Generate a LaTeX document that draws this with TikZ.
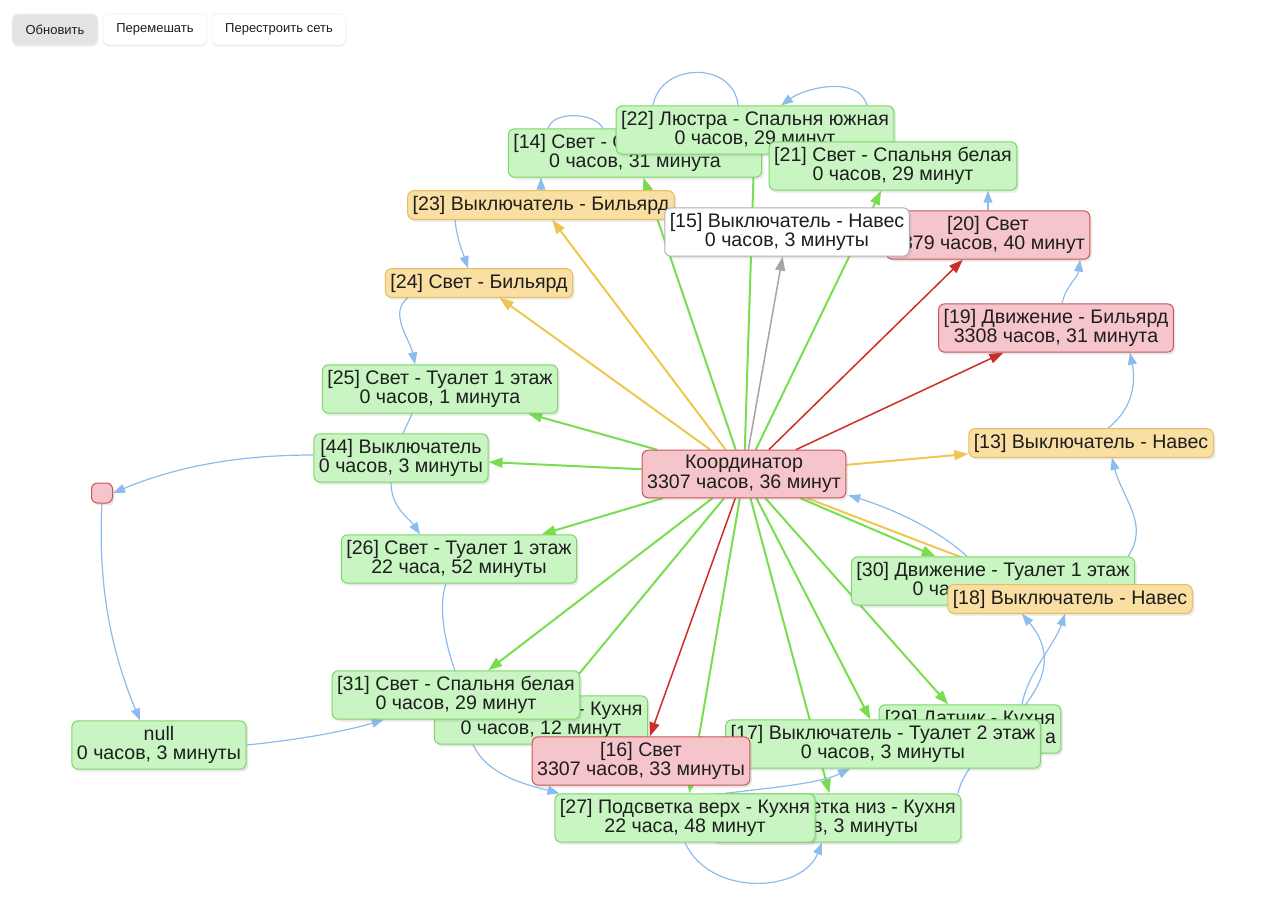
\documentclass[tikz,border=0pt]{standalone}
\usepackage{fontspec}
\setmainfont{Liberation Sans}
\usetikzlibrary{arrows.meta,calc,shadows,backgrounds}

\definecolor{greenfill}{RGB}{201,245,195}
\definecolor{greenline}{RGB}{125,212,105}
\definecolor{redfill}{RGB}{246,197,203}
\definecolor{redline}{RGB}{201,85,85}
\definecolor{amberfill}{RGB}{250,223,162}
\definecolor{amberline}{RGB}{228,190,95}
\definecolor{greyline}{RGB}{175,175,175}
\definecolor{btngrey}{RGB}{226,227,229}
\definecolor{txt}{RGB}{30,30,30}
\definecolor{edgegreen}{RGB}{120,222,80}
\definecolor{edgered}{RGB}{205,45,38}
\definecolor{edgeamber}{RGB}{238,198,80}
\definecolor{edgegrey}{RGB}{165,165,165}
\definecolor{edgeblue}{RGB}{140,188,238}

\begin{document}
\begin{tikzpicture}[x=0.5pt,y=-0.5pt,
	box/.style={draw, rounded corners=3pt, align=center, inner xsep=2.5pt, inner ysep=2.6pt, line width=0.5pt, text=txt,
		font=\fontsize{9.8}{9.8}\selectfont, drop shadow={shadow xshift=1pt, shadow yshift=-1.2pt, opacity=0.18}},
	greenbox/.style={box, fill=greenfill, draw=greenline},
	redbox/.style={box, fill=redfill, draw=redline},
	amberbox/.style={box, fill=amberfill, draw=amberline},
	whitebox/.style={box, fill=white, draw=greyline},
	btn/.style={rounded corners=3pt, minimum height=15.5pt, inner sep=0pt, text=txt, font=\fontsize{6.5}{6.5}\selectfont,
		draw=black!6, drop shadow={shadow xshift=0pt, shadow yshift=-0.8pt, opacity=0.15}},
	peerline/.style={draw=edgeblue, line width=0.6pt},
	peer/.style={peerline, -{Triangle[length=6pt,width=4.5pt]}}
]
	\useasboundingbox (0,0) rectangle (1280,901);

	% buttons (all coordinates are pixels of the screen, y downwards)
	\node[btn, fill=btngrey, minimum width=43pt] (bRefresh) at (55,29.5) {Обновить};
	\node[btn, fill=white, minimum width=52pt] (bShuffle) at (155,29.5) {Перемешать};
	\node[btn, fill=white, minimum width=67pt] (bRebuild) at (279,29.5) {Перестроить сеть};

	% devices, later ones lie on top
	\node[greenbox] (n14) at (635,153) {[14] Свет - С\phantom{пальня южная}\\0 часов, 31 минута};
	\node[greenbox] (n22) at (755,130) {[22] Люстра - Спальня южная\\0 часов, 29 минут};
	\node[greenbox] (n21) at (893,166) {[21] Свет - Спальня белая\\0 часов, 29 минут};
	\node[amberbox] (n23) at (541,205) {[23] Выключатель - Бильярд};
	\node[redbox] (n20) at (988,235) {[20] Свет\\\phantom{3}379 часов, 40 минут};
	\node[whitebox] (n15) at (787,232) {[15] Выключатель - Навес\\0 часов, 3 минуты};
	\node[amberbox] (n24) at (479,283) {[24] Свет - Бильярд};
	\node[redbox] (n19) at (1056,328) {[19] Движение - Бильярд\\3308 часов, 31 минута};
	\node[greenbox] (n25) at (440,389) {[25] Свет - Туалет 1 этаж\\0 часов, 1 минута};
	\node[greenbox] (n44) at (401,458) {[44] Выключатель\\0 часов, 3 минуты};
	\node[amberbox] (n13) at (1091,443) {[13] Выключатель - Навес};
	\node[redbox] (coord) at (744,474) {Координатор\\3307 часов, 36 минут};
	\node[redbox, minimum width=10.5pt, minimum height=10pt, inner sep=0pt] (nsm) at (102,493) {};
	\node[greenbox] (n26) at (459,559) {[26] Свет - Туалет 1 этаж\\22 часа, 52 минуты};
	\node[greenbox] (n30) at (993,581) {[30] Движение - Туалет 1 этаж\\0 ча\phantom{сов, 00 минут}};
	\node[amberbox] (n18) at (1070,599) {[18] Выключатель - Навес};
	\node[greenbox] (n28) at (541,720) {\phantom{[28] Подсветка }- Кухня\\0 часов, 12 минут};
	\node[greenbox] (n31) at (456,695) {[31] Свет - Спальня белая\\0 часов, 29 минут};
	\node[greenbox] (n29) at (970,729) {[29] Датчик - Кухня\\\phantom{0 часов, 00 минут}а};
	\node[greenbox] (n17) at (883,744) {[17] Выключатель - Туалет 2 этаж\\0 часов, 3 минуты};
	\node[redbox] (n16) at (641,761) {[16] Свет\\3307 часов, 33 минуты};
	\node[greenbox] (nlow) at (836,818) {\phantom{[32] Подсв}етка низ - Кухня\\\phantom{0 часо}в, 3 минуты};
	\node[greenbox] (n27) at (685,818) {[27] Подсветка верх - Кухня\\22 часа, 48 минут};
	\node[greenbox] (nnull) at (159,745) {null\\0 часов, 3 минуты};

	\begin{scope}[on background layer]
	% links of the coordinator
	\foreach \t/\c/\w in {n14/edgegreen/1pt, n22/edgegreen/1pt, n21/edgegreen/1pt, n15/edgegrey/0.75pt,
		n20/edgered/0.75pt, n19/edgered/0.75pt, n13/edgeamber/1pt, n23/edgeamber/1pt, n24/edgeamber/1pt,
		n25/edgegreen/1pt, n44/edgegreen/1pt, n26/edgegreen/1pt, n31/edgegreen/1pt, n28/edgegreen/1pt,
		n16/edgered/0.75pt, n27/edgegreen/1pt, nlow/edgegreen/1pt, n17/edgegreen/1pt, n29/edgegreen/1pt,
		n30/edgegreen/1pt, n18/edgeamber/1pt}
		\draw[draw=\c, line width=\w, -{Triangle[length=7pt,width=5pt]}] (coord) -- (\t);

	% links between the other devices
	\draw[peer] (n23.north) -- (n23.north |- n14.south);
	\draw[peerline] ($(n14.north)+(-87,0)$) .. controls +(5,-18) and +(-8,-16) .. ($(n14.north)+(-32,0)$);
	\draw[peerline] ($(n22.north)+(-102,0)$) .. controls +(8,-44) and +(-4,-44) .. ($(n22.north)+(-17,0)$);
	\draw[peer] ($(n22.north)+(112,0)$) .. controls +(-8,-30) and +(25,-18) .. ($(n22.north)+(26,0)$);
	\draw[peer] (n20.north) -- (n20.north |- n21.south);
	\draw[peer] ($(n19.north)+(6,0)$) .. controls +(4,-18) and +(-2,18) .. ($(n20.south)+(92,0)$);
	\draw[peer] ($(n13.north)+(17,0)$) .. controls +(25,-20) and +(6,30) .. ($(n19.south)+(74,0)$);
	\draw[peer] ($(n30.north)+(135,0)$) .. controls +(22,-32) and +(10,40) .. ($(n13.south)+(21,0)$);
	\draw[peer] ($(n30.north)+(-26,0)$) .. controls +(-30,-28) and +(40,12) .. ($(coord.south east)+(2,-3)$);
	\draw[peer] ($(n29.north)+(52,0)$) .. controls +(5,-30) and +(-10,30) .. ($(n18.south)+(-5,0)$);
	\draw[peer] ($(nlow.north)+(122,0)$) .. controls +(10,-53) and +(63,76) .. ($(n18.south)+(-48,0)$);
	\draw[peer] ($(n27.north)+(40,0)$) .. controls +(40,-5) and +(-30,15) .. ($(n17.south)+(-33,0)$);
	\draw[peer] (n27.south) .. controls +(25,55) and +(-20,50) .. ($(nlow.south)+(-14,0)$);
	\draw[peer] ($(n28.south)+(-68,0)$) .. controls +(15,32) and +(-30,-8) .. ($(n27.north west)+(5,0)$);
	\draw[peer] ($(n26.south)+(-13,0)$) .. controls +(-12,35) and +(-10,-20) .. ($(n28.north)+(-75,0)$);
	\draw[peer] ($(n44.south)+(-10,0)$) .. controls +(0,25) and +(-10,-15) .. ($(n26.north)+(-39,0)$);
	\draw[peerline] ($(n25.south)+(-28,0)$) -- ($(n44.north)+(2,0)$);
	\draw[peer] ($(n24.south)+(-71,0)$) .. controls +(-20,15) and +(-5,-25) .. ($(n25.north)+(-25,0)$);
	\draw[peer] ($(n23.south)+(-86,0)$) .. controls +(2,20) and +(-5,-15) .. ($(n24.north)+(-11,0)$);
	\draw[peer] ($(n44.west)+(0,-3)$) .. controls +(-80,0) and +(60,-25) .. (nsm.east);
	\draw[peer] (nsm.south) .. controls +(-5,90) and +(-25,-60) .. ($(nnull.north)+(-19,0)$);
	\draw[peer] (nnull.east) .. controls +(50,-5) and +(-40,12) .. ($(n31.south west)+(52,0)$);
	\end{scope}

\end{tikzpicture}
\end{document}
